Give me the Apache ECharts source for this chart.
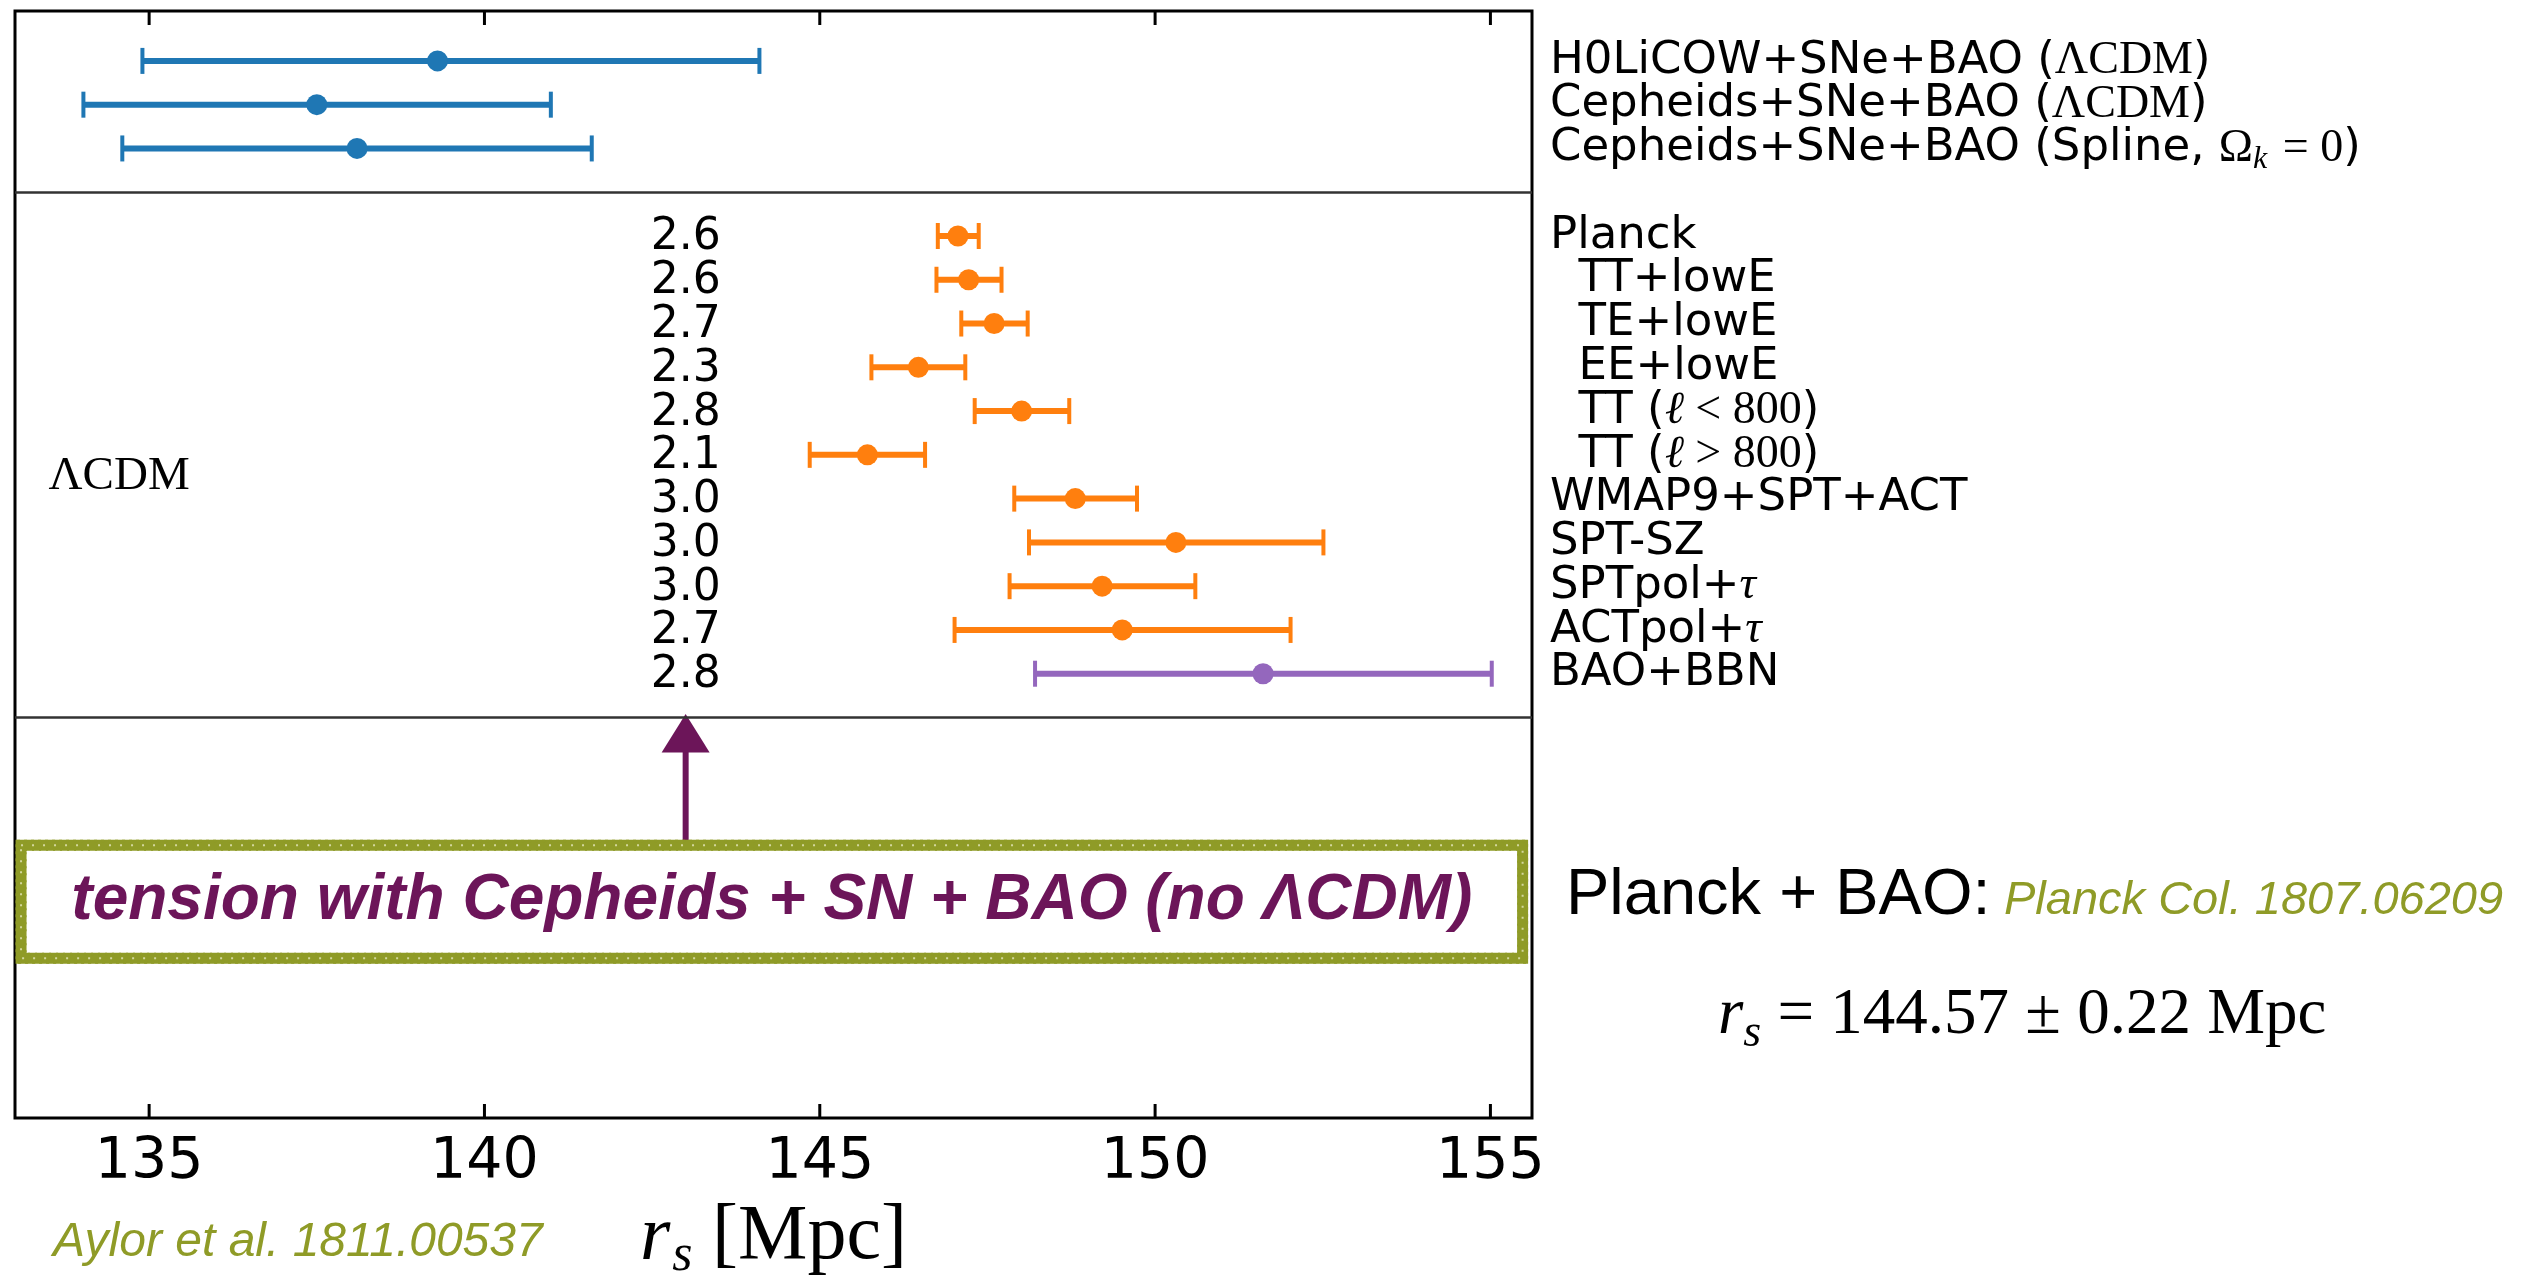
<!DOCTYPE html>
<html>
<head>
<meta charset="utf-8">
<script src="https://cdn.jsdelivr.net/npm/echarts@6/dist/echarts.min.js"></script>
<style>
html, body { margin: 0; padding: 0; background: #fff; }
#chart { width: 2534px; height: 1275px; }
</style>
</head>
<body>
<div id="chart"></div>
<script>
// rows 0-2: distance ladder, 4-13: CMB, 14: BAO+BBN
var rowIndex = [0, 1, 2, 4, 5, 6, 7, 8, 9, 10, 11, 12, 13, 14];
var rsCenter = [139.30, 137.50, 138.10, 147.06, 147.22, 147.60, 146.47, 148.01, 145.71, 148.81, 150.31, 149.21, 149.51, 151.61];
var rsLow = [134.90, 134.02, 134.60, 146.76, 146.74, 147.11, 145.77, 147.31, 144.85, 147.90, 148.12, 147.83, 147.01, 148.21];
var rsHigh = [144.10, 140.99, 141.60, 147.37, 147.71, 148.10, 147.17, 148.72, 146.57, 149.73, 152.51, 150.60, 152.02, 155.02];
var rowGroup = [0, 0, 0, 1, 1, 1, 1, 1, 1, 1, 1, 1, 1, 2];
var groupColors = ['#1f77b4', '#ff7f0e', '#9467bd'];

var rowLabels = [
    'H0LiCOW+SNe+BAO ({m|ΛCDM})',
    'Cepheids+SNe+BAO ({m|ΛCDM})',
    'Cepheids+SNe+BAO (Spline, {m|Ω}{sub|k}{m| = 0})',
    'Planck',
    '  TT+lowE',
    '  TE+lowE',
    '  EE+lowE',
    '  TT ({mi|ℓ}{m| < 800})',
    '  TT ({mi|ℓ}{m| > 800})',
    'WMAP9+SPT+ACT',
    'SPT-SZ',
    'SPTpol+{mi|τ}',
    'ACTpol+{mi|τ}',
    'BAO+BBN'
];
// tension (sigma) for rows 4..14
var tensionRows = [4, 5, 6, 7, 8, 9, 10, 11, 12, 13, 14];
var tensionVals = ['2.6', '2.6', '2.7', '2.3', '2.8', '2.1', '3.0', '3.0', '3.0', '2.7', '2.8'];

var xTicks = [135, 140, 145, 150, 155];
var dividerRows = [3, 15];
var X_MIN = 133.0, X_MAX = 155.62;
var Y_MIN = -1.14, Y_MAX = 24.15;

var OLIVE = '#8f9b27';
var PURPLE = '#6c1559';
var SERIF = '"Liberation Serif", "DejaVu Serif", serif';
var SANS = '"DejaVu Sans", sans-serif';
var HELV = '"Liberation Sans", Arial, sans-serif';

var barData = [];
for (var i = 0; i < rowIndex.length; i++) {
    barData.push([rowIndex[i], rsLow[i], rsCenter[i], rsHigh[i], rowGroup[i]]);
}

function renderBar(params, api) {
    var row = api.value(0);
    var pl = api.coord([api.value(1), row]);
    var pc = api.coord([api.value(2), row]);
    var ph = api.coord([api.value(3), row]);
    var color = groupColors[api.value(4)];
    var cap = 13;
    return {
        type: 'group',
        children: [
            { type: 'line', shape: { x1: pl[0], y1: pl[1], x2: ph[0], y2: ph[1] }, style: { stroke: color, lineWidth: 6 } },
            { type: 'line', shape: { x1: pl[0], y1: pl[1] - cap, x2: pl[0], y2: pl[1] + cap }, style: { stroke: color, lineWidth: 4 } },
            { type: 'line', shape: { x1: ph[0], y1: ph[1] - cap, x2: ph[0], y2: ph[1] + cap }, style: { stroke: color, lineWidth: 4 } },
            { type: 'circle', shape: { cx: pc[0], cy: pc[1], r: 10.5 }, style: { fill: color } }
        ]
    };
}

// inward ticks on the top and bottom frame edges
function renderTick(params, api) {
    var top = api.coord([api.value(0), Y_MIN]);
    var bot = api.coord([api.value(0), Y_MAX]);
    var st = { stroke: '#000', lineWidth: 3 };
    return {
        type: 'group',
        children: [
            { type: 'line', shape: { x1: top[0], y1: top[1], x2: top[0], y2: top[1] + 14 }, style: st },
            { type: 'line', shape: { x1: bot[0], y1: bot[1], x2: bot[0], y2: bot[1] - 14 }, style: st }
        ]
    };
}

var chart = echarts.init(document.getElementById('chart'));
var option = {
    animation: false,
    backgroundColor: '#fff',
    grid: {
        left: 15, right: 1002, top: 11, bottom: 157,
        outerBoundsMode: 'none',
        show: true, borderColor: '#000', borderWidth: 3, backgroundColor: 'transparent'
    },
    xAxis: {
        type: 'value',
        min: X_MIN,
        max: X_MAX,
        position: 'bottom',
        axisLine: { show: false, onZero: false },
        splitLine: { show: false },
        axisTick: { show: false },
        axisLabel: {
            customValues: xTicks,
            fontSize: 57,
            fontFamily: SANS,
            color: '#000',
            margin: 17
        },
        name: '{r|r}{s|s}{b| [Mpc]}',
        nameLocation: 'middle',
        nameGap: 76,
        nameTextStyle: {
            rich: {
                r: { fontFamily: SERIF, fontStyle: 'italic', fontSize: 78, color: '#000' },
                s: { fontFamily: SERIF, fontStyle: 'italic', fontSize: 52, color: '#000', padding: [36, 0, 0, 2] },
                b: { fontFamily: SERIF, fontSize: 78, color: '#000' }
            }
        }
    },
    yAxis: {
        type: 'value',
        inverse: true,
        min: Y_MIN,
        max: Y_MAX,
        show: false
    },
    series: [{
        type: 'custom',
        renderItem: renderBar,
        encode: { x: [1, 2, 3], y: 0 },
        data: barData,
        markLine: {
            silent: true,
            symbol: 'none',
            label: { show: false },
            lineStyle: { color: '#333', width: 2.5, type: 'solid' },
            data: dividerRows.map(function (r) { return { yAxis: r }; })
        }
    }, {
        type: 'custom',
        renderItem: renderTick,
        clip: false,
        silent: true,
        z: 5,
        encode: { x: 0 },
        data: xTicks.map(function (v) { return [v]; })
    }]
};
chart.setOption(option);

function px(x, y) {
    return chart.convertToPixel({ seriesIndex: 0 }, [x, y]);
}

var g = [];
var mathRich = {
    m: { fontFamily: SERIF, fontSize: 46, color: '#000' },
    mi: { fontFamily: SERIF, fontStyle: 'italic', fontSize: 46, color: '#000' },
    sub: { fontFamily: SERIF, fontStyle: 'italic', fontSize: 32, color: '#000', padding: [22, 4, 0, 0] }
};

// legend-like labels on the right
for (var j = 0; j < rowIndex.length; j++) {
    var p = px(144, rowIndex[j]);
    g.push({
        type: 'text', x: 1550, y: p[1],
        style: {
            text: rowLabels[j], fontFamily: SANS, fontSize: 45, fill: '#000',
            align: 'left', verticalAlign: 'middle', rich: mathRich
        }
    });
}

// tension numbers
for (var k = 0; k < tensionRows.length; k++) {
    var q = px(143, tensionRows[k]);
    g.push({
        type: 'text', x: q[0], y: q[1] + 2,
        style: { text: tensionVals[k], fontFamily: SANS, fontSize: 44, fill: '#000', align: 'center', verticalAlign: 'middle' }
    });
}

// LCDM group label
var lp = px(133.5, 9.5);
g.push({
    type: 'text', x: lp[0], y: lp[1],
    style: { text: 'ΛCDM', fontFamily: SERIF, fontSize: 47, fill: '#000', align: 'left', verticalAlign: 'middle' }
});

// arrow pointing at the tension column
var aTip = px(143, 14.92);
var aBase = px(143, 15.8);
var aTail = px(143, 17.85);
g.push({
    type: 'line', shape: { x1: aTail[0], y1: aTail[1], x2: aBase[0], y2: aBase[1] - 4 },
    style: { stroke: PURPLE, lineWidth: 6 }
});
g.push({
    type: 'polygon',
    shape: { points: [[aTip[0], aTip[1]], [aTip[0] - 24, aBase[1]], [aTip[0] + 24, aBase[1]]] },
    style: { fill: PURPLE }
});

// olive box with the tension note
var b1 = px(133.09, 17.92);
var b2 = px(155.48, 20.5);
var bw = b2[0] - b1[0], bh = b2[1] - b1[1];
g.push({
    type: 'rect',
    shape: { x: b1[0], y: b1[1], width: bw, height: bh },
    style: { fill: 'rgba(0,0,0,0)', stroke: OLIVE, lineWidth: 11 }
});
g.push({
    type: 'rect',
    shape: { x: b1[0] - 4, y: b1[1] - 4, width: bw + 8, height: bh + 8 },
    style: { fill: 'rgba(0,0,0,0)', stroke: OLIVE, lineWidth: 3, lineDash: [3, 4] }
});
g.push({
    type: 'rect',
    shape: { x: b1[0] + 4, y: b1[1] + 4, width: bw - 8, height: bh - 8 },
    style: { fill: 'rgba(0,0,0,0)', stroke: OLIVE, lineWidth: 3, lineDash: [2, 5] }
});
g.push({
    type: 'rect',
    shape: { x: b1[0], y: b1[1], width: bw, height: bh },
    style: { fill: 'rgba(0,0,0,0)', stroke: '#d3d79e', lineWidth: 2, lineDash: [2, 9] }
});
g.push({
    type: 'text', x: (b1[0] + b2[0]) / 2, y: (b1[1] + b2[1]) / 2,
    style: {
        text: 'tension with Cepheids + SN + BAO (no ΛCDM)',
        fontFamily: HELV, fontWeight: 'bold', fontStyle: 'italic', fontSize: 64,
        fill: PURPLE, align: 'center', verticalAlign: 'middle'
    }
});

// Planck + BAO note
g.push({
    type: 'text', x: 1566, y: 896,
    style: { text: 'Planck + BAO:', fontFamily: HELV, fontSize: 65, fill: '#000', align: 'left', verticalAlign: 'middle' }
});
g.push({
    type: 'text', x: 2004, y: 901,
    style: { text: 'Planck Col. 1807.06209', fontFamily: HELV, fontStyle: 'italic', fontSize: 47, fill: OLIVE, align: 'left', verticalAlign: 'middle' }
});
g.push({
    type: 'text', x: 1718, y: 1016,
    style: {
        text: '{i|r}{s|s}{n| = 144.57 ± 0.22 Mpc}',
        align: 'left', verticalAlign: 'middle',
        rich: {
            i: { fontFamily: SERIF, fontStyle: 'italic', fontSize: 65, fill: '#000' },
            s: { fontFamily: SERIF, fontStyle: 'italic', fontSize: 46, fill: '#000', padding: [36, 0, 0, 0] },
            n: { fontFamily: SERIF, fontSize: 65, fill: '#000' }
        }
    }
});

// reference
g.push({
    type: 'text', x: 53, y: 1243,
    style: { text: 'Aylor et al. 1811.00537', fontFamily: HELV, fontStyle: 'italic', fontSize: 48, fill: OLIVE, align: 'left', verticalAlign: 'middle' }
});

chart.setOption({ graphic: g });
</script>
</body>
</html>
